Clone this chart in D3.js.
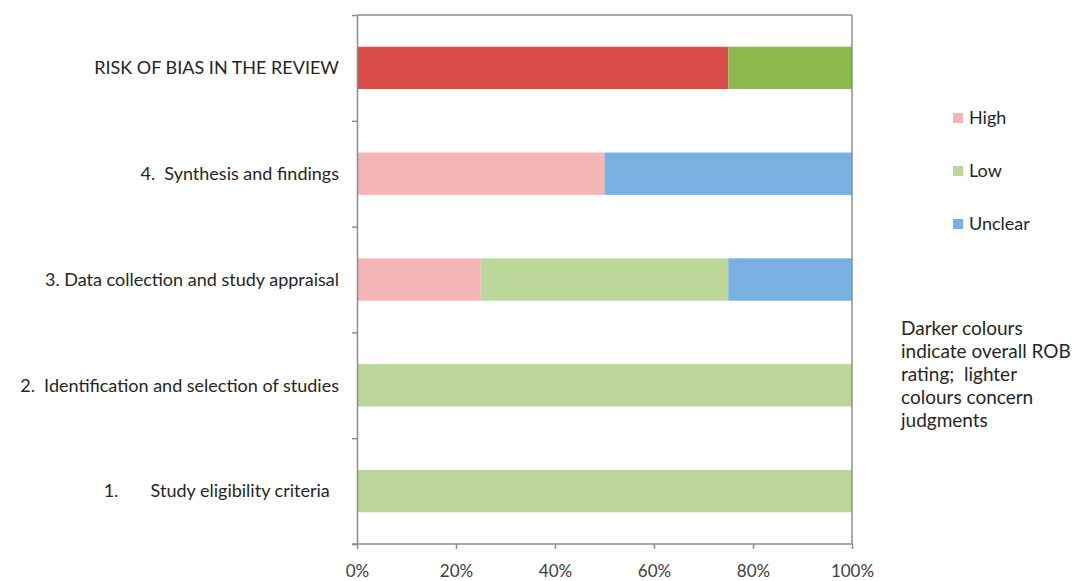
<!DOCTYPE html>
<html>
<head>
<meta charset="utf-8">
<script src="https://cdn.jsdelivr.net/npm/d3@7"></script>
<style>
	body { margin: 0; background: #fff; }
	#chart_rob { width: 1077px; height: 581px; }
	text { font-family: Lato, "Open Sans", sans-serif; fill: #262626; }
</style>
</head>
<body>
<div id="chart_rob"></div>
<script>

//////// DATA ////////
var categories = [
	"RISK OF BIAS IN THE REVIEW",
	"4.  Synthesis and findings",
	"3. Data collection and study appraisal",
	"2.  Identification and selection of studies",
	"1.       Study eligibility criteria  "
];
var highDark  = [75, 0, 0, 0, 0];
var highLight = [0, 50, 25, 0, 0];
var lowDark   = [25, 0, 0, 0, 0];
var lowLight  = [0, 0, 50, 100, 100];
var unclear   = [0, 50, 25, 0, 0];
var xTicks = [0, 20, 40, 60, 80, 100];
var legendLabels = ["High", "Low", "Unclear"];
var noteLines = ["Darker colours", "indicate overall ROB", "rating;  lighter", "colours concern", "judgments"];

function plotRob() {

	var width = 1077, height = 581;
	var margin = {top: 15, right: 225, bottom: 37, left: 357};
	var w = width - margin.left - margin.right,
		h = height - margin.top - margin.bottom;

	var keys = ["highDark", "highLight", "lowDark", "lowLight", "unclear"];
	var colors = {
		highDark: "#d94e4b",
		highLight: "#f3b5b5",
		lowDark: "#8ab84b",
		lowLight: "#bad699",
		unclear: "#78b0e2"
	};
	var legendColors = [colors.highLight, colors.lowLight, colors.unclear];

	var table = categories.map(function(c, i) {
		return {cat: c, highDark: highDark[i], highLight: highLight[i],
			lowDark: lowDark[i], lowLight: lowLight[i], unclear: unclear[i]};
	});

	//////// SCALES ////////
	var x = d3.scaleLinear().domain([0, 100]).range([0, w]);
	var y = d3.scaleBand().domain(categories).range([0, h]).paddingInner(0.6).paddingOuter(0.3);
	var yEdge = d3.scaleLinear().domain([0, categories.length]).range([0, h]);

	//////// CANVAS ////////
	var svg = d3.select("#chart_rob").append("svg")
		.attr("width", width)
		.attr("height", height);

	var g = svg.append("g")
		.attr("transform", "translate(" + margin.left + "," + margin.top + ")");

	// Bars
	var series = d3.stack().keys(keys)(table);

	g.selectAll(".layer")
		.data(series).enter().append("g")
			.attr("class", "layer")
			.attr("fill", function(d) { return colors[d.key]; })
		.selectAll("rect")
		.data(function(d) { return d; }).enter().append("rect")
			.attr("x", function(d) { return x(d[0]); })
			.attr("y", function(d) { return y(d.data.cat); })
			.attr("width", function(d) { return x(d[1]) - x(d[0]); })
			.attr("height", y.bandwidth());

	// Frame top and right
	g.append("line")
		.attr("x1", 0).attr("x2", w).attr("y1", 0).attr("y2", 0)
		.attr("stroke", "#8c8c8c").attr("stroke-width", 1.5);
	g.append("line")
		.attr("x1", w).attr("x2", w).attr("y1", 0).attr("y2", h)
		.attr("stroke", "#8c8c8c").attr("stroke-width", 1.5);

	// Left axis (ticks at category edges)
	var yAxis = g.append("g")
		.call(d3.axisLeft(yEdge).tickValues(d3.range(categories.length + 1)).tickFormat("").tickSize(5).tickSizeOuter(0));
	yAxis.selectAll("line, path").attr("stroke", "#8c8c8c").attr("stroke-width", 1.5);

	// Category labels
	g.selectAll(".catLabel")
		.data(categories).enter().append("text")
			.attr("class", "catLabel")
			.attr("x", -18)
			.attr("y", function(d) { return y(d) + y.bandwidth() / 2; })
			.attr("dy", "0.35em")
			.attr("text-anchor", "end")
			.style("white-space", "pre")
			.style("font-size", "18px")
			.text(function(d) { return d; });

	// Bottom axis
	var xAxis = g.append("g")
		.attr("transform", "translate(0," + h + ")")
		.call(d3.axisBottom(x).tickValues(xTicks).tickFormat(function(d) { return d + "%"; }).tickSize(5).tickSizeOuter(0));
	xAxis.selectAll("line, path").attr("stroke", "#8c8c8c").attr("stroke-width", 1.5);
	xAxis.select(".domain").attr("d", "M-5,0H" + w);
	xAxis.selectAll("text")
		.attr("y", 21)
		.style("font-size", "17px")
		.style("font-family", "Lato, sans-serif")
		.style("fill", "#404040");

	//////// LEGEND ////////
	var legend = svg.append("g").attr("transform", "translate(953,118)");
	var item = legend.selectAll(".item")
		.data(legendLabels).enter().append("g")
			.attr("class", "item")
			.attr("transform", function(d, i) { return "translate(0," + i * 53 + ")"; });
	item.append("rect")
		.attr("x", 0).attr("y", -5)
		.attr("width", 10).attr("height", 10)
		.attr("fill", function(d, i) { return legendColors[i]; });
	item.append("text")
		.attr("x", 16)
		.attr("dy", "0.35em")
		.style("font-size", "18px")
		.text(function(d) { return d; });

	// Note
	svg.append("text")
		.attr("x", 901)
		.attr("y", 335)
		.style("font-size", "19px")
		.selectAll("tspan")
		.data(noteLines).enter().append("tspan")
			.attr("x", 901)
			.attr("dy", function(d, i) { return i ? 23 : 0; })
			.style("white-space", "pre")
			.text(function(d) { return d; });
}
plotRob();
</script>
</body>
</html>
